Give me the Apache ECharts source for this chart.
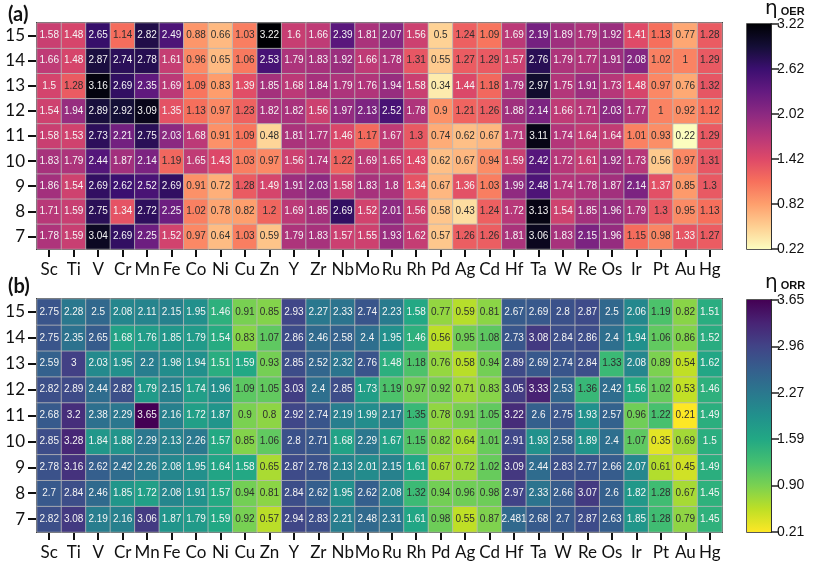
<!DOCTYPE html>
<html>
<head>
<meta charset="utf-8">
<script src="https://cdn.jsdelivr.net/npm/echarts@6/dist/echarts.min.js"></script>
<style>html,body{margin:0;padding:0;background:#fff;}#c{width:817px;height:565px;}</style>
</head>
<body>
<div id="c"></div>
<script>
const elements = ['Sc','Ti','V','Cr','Mn','Fe','Co','Ni','Cu','Zn','Y','Zr','Nb','Mo','Ru','Rh','Pd','Ag','Cd','Hf','Ta','W','Re','Os','Ir','Pt','Au','Hg'];
const rowLabels = ['7','8','9','10','11','12','13','14','15'];

// (a) eta OER, rows 15 .. 7
const oer15 = [1.58,1.48,2.65,1.14,2.82,2.49,0.88,0.66,1.03,3.22,1.6,1.66,2.39,1.81,2.07,1.56,0.5,1.24,1.09,1.69,2.19,1.89,1.79,1.92,1.41,1.13,0.77,1.28];
const oer14 = [1.66,1.48,2.87,2.74,2.78,1.61,0.96,0.65,1.06,2.53,1.79,1.83,1.92,1.66,1.78,1.31,0.55,1.27,1.29,1.57,2.76,1.79,1.77,1.91,2.08,1.02,1,1.29];
const oer13 = [1.5,1.28,3.16,2.69,2.35,1.69,1.09,0.83,1.39,1.85,1.68,1.84,1.79,1.76,1.94,1.58,0.34,1.44,1.18,1.79,2.97,1.75,1.91,1.73,1.48,0.97,0.76,1.32];
const oer12 = [1.54,1.94,2.89,2.92,3.09,1.35,1.13,0.97,1.23,1.82,1.82,1.56,1.97,2.13,2.52,1.78,0.9,1.21,1.26,1.88,2.14,1.66,1.71,2.03,1.77,1,0.92,1.12];
const oer11 = [1.58,1.53,2.73,2.21,2.75,2.03,1.68,0.91,1.09,0.48,1.81,1.77,1.46,1.17,1.67,1.3,0.74,0.62,0.67,1.71,3.11,1.74,1.64,1.64,1.01,0.93,0.22,1.29];
const oer10 = [1.83,1.79,2.44,1.87,2.14,1.19,1.65,1.43,1.03,0.97,1.56,1.74,1.22,1.69,1.65,1.43,0.62,0.67,0.94,1.59,2.42,1.72,1.61,1.92,1.73,0.56,0.97,1.31];
const oer9  = [1.86,1.54,2.69,2.62,2.52,2.69,0.91,0.72,1.28,1.49,1.91,2.03,1.58,1.83,1.8,1.34,0.67,1.36,1.03,1.99,2.48,1.74,1.78,1.87,2.14,1.37,0.85,1.3];
const oer8  = [1.71,1.59,2.75,1.34,2.72,2.25,1.02,0.78,0.82,1.2,1.69,1.85,2.69,1.52,2.01,1.56,0.58,0.43,1.24,1.72,3.13,1.54,1.85,1.96,1.79,1.3,0.95,1.13];
const oer7  = [1.78,1.59,3.04,2.69,2.25,1.52,0.97,0.64,1.03,0.59,1.79,1.83,1.57,1.55,1.93,1.62,0.57,1.26,1.26,1.81,3.06,1.83,2.15,1.96,1.15,0.98,1.33,1.27];

// (b) eta ORR, rows 15 .. 7
const orr15 = [2.75,2.28,2.5,2.08,2.11,2.15,1.95,1.46,0.91,0.85,2.93,2.27,2.33,2.74,2.23,1.58,0.77,0.59,0.81,2.67,2.69,2.8,2.87,2.5,2.06,1.19,0.82,1.51];
const orr14 = [2.75,2.35,2.65,1.68,1.76,1.85,1.79,1.54,0.83,1.07,2.86,2.46,2.58,2.4,1.95,1.46,0.56,0.95,1.08,2.73,3.08,2.84,2.86,2.4,1.94,1.06,0.86,1.52];
const orr13 = [2.59,3,2.03,1.95,2.2,1.98,1.94,1.51,1.59,0.93,2.85,2.52,2.32,2.76,1.48,1.18,0.76,0.58,0.94,2.89,2.69,2.74,2.84,1.33,2.08,0.89,0.54,1.62];
const orr12 = [2.82,2.89,2.44,2.82,1.79,2.15,1.74,1.96,1.09,1.05,3.03,2.4,2.85,1.73,1.19,0.97,0.92,0.71,0.83,3.05,3.33,2.53,1.36,2.42,1.56,1.02,0.53,1.46];
const orr11 = [2.68,3.2,2.38,2.29,3.65,2.16,1.72,1.87,0.9,0.8,2.92,2.74,2.19,1.99,2.17,1.35,0.78,0.91,1.05,3.22,2.6,2.75,1.93,2.57,0.96,1.22,0.21,1.49];
const orr10 = [2.85,3.28,1.84,1.88,2.29,2.13,2.26,1.57,0.85,1.06,2.8,2.71,1.68,2.29,1.67,1.15,0.82,0.64,1.01,2.91,1.93,2.58,1.89,2.4,1.07,0.35,0.69,1.5];
const orr9  = [2.78,3.16,2.62,2.42,2.26,2.08,1.95,1.64,1.58,0.65,2.87,2.78,2.13,2.01,2.15,1.61,0.67,0.72,1.02,3.09,2.44,2.83,2.77,2.66,2.07,0.61,0.45,1.49];
const orr8  = [2.7,2.84,2.46,1.85,1.72,2.08,1.91,1.57,0.94,0.81,2.84,2.62,1.95,2.62,2.08,1.32,0.94,0.96,0.98,2.97,2.33,2.66,3.07,2.6,1.82,1.28,0.67,1.45];
const orr7  = [2.82,3.08,2.19,2.16,3.06,1.87,1.79,1.59,0.92,0.57,2.94,2.83,2.21,2.48,2.31,1.61,0.98,0.55,0.87,2.481,2.68,2.7,2.87,2.63,1.85,1.28,0.79,1.45];

const oerTicks = ['0.22','0.82','1.42','2.02','2.62','3.22'];
const orrTicks = ['0.21','0.90','1.59','2.27','2.96','3.65'];
const oerRange = [0.22, 3.22];
const orrRange = [0.21, 3.65];

const oerRows = [oer7,oer8,oer9,oer10,oer11,oer12,oer13,oer14,oer15];
const orrRows = [orr7,orr8,orr9,orr10,orr11,orr12,orr13,orr14,orr15];

const magmaR = ['#fcfdbf','#fecf92','#fe9f6d','#f7705c','#de4968','#b73779','#8c2981','#641a80','#3b0f70','#140e36','#000004'];
const viridisR = ['#fde725','#bddf26','#7ad151','#44bf70','#22a884','#21918c','#2a788e','#355f8d','#414487','#482475','#440154'];

function build(rows, thr, dark) {
  const d = [];
  rows.forEach((r, yi) => r.forEach((v, xi) => {
    d.push({ value: [xi, yi, v], label: { color: v < thr ? dark : '#f4f4f4' } });
  }));
  return d;
}
function grad(colorsLowToHigh) {
  const n = colorsLowToHigh.length;
  return {
    type: 'linear', x: 0, y: 0, x2: 0, y2: 1,
    colorStops: colorsLowToHigh.slice().reverse().map((c, i) => ({ offset: i / (n - 1), color: c }))
  };
}

const catFont = 'Lato, "Open Sans", sans-serif';
function heatX(gi) {
  return {
    type: 'category', gridIndex: gi, data: elements,
    axisLine: { show: true, lineStyle: { color: '#111', width: 2 } },
    axisTick: { show: true, alignWithLabel: true, length: 8, lineStyle: { color: '#111', width: 2 } },
    axisLabel: { fontSize: 17, color: '#111', margin: 12, fontFamily: catFont, interval: 0, hideOverlap: false },
    splitLine: { show: false }
  };
}
function heatY(gi) {
  return {
    type: 'category', gridIndex: gi, data: rowLabels,
    axisLine: { show: true, lineStyle: { color: '#111', width: 2 } },
    axisTick: { show: true, alignWithLabel: true, length: 9, lineStyle: { color: '#111', width: 2 } },
    axisLabel: { fontSize: 17, color: '#111', margin: 12, fontFamily: catFont, interval: 0 },
    splitLine: { show: false }
  };
}
function barY(gi, ticks) {
  return {
    type: 'value', gridIndex: gi, min: 0, max: ticks.length - 1, interval: 1, position: 'right',
    axisLine: { show: true, lineStyle: { color: '#222', width: 1.5 } },
    axisTick: { show: true, length: 8, lineStyle: { color: '#222', width: 1.5 } },
    axisLabel: { fontSize: 14, color: '#111', margin: 6, fontFamily: '"Liberation Sans", Arial, sans-serif', formatter: v => ticks[v] },
    splitLine: { show: false }
  };
}
function heatSeries(idx, data) {
  return {
    type: 'heatmap', xAxisIndex: idx, yAxisIndex: idx, data: data,
    label: { show: true, fontSize: 10, fontFamily: '"Liberation Sans", Arial, sans-serif', formatter: p => String(p.value[2]) },
    itemStyle: { borderColor: 'rgba(185,185,185,0.8)', borderWidth: 1 },
    emphasis: { disabled: true }, silent: true
  };
}
const etaRich = { e: { fontSize: 20, fontWeight: 'normal', color: '#111', fontFamily: '"DejaVu Sans"' }, s: { fontSize: 11, fontWeight: 'bold', color: '#111', fontFamily: '"Liberation Sans"', padding: [5, 0, 0, 0] } };

const chart = echarts.init(document.getElementById('c'), null, { renderer: 'canvas' });
chart.setOption({
  animation: false,
  backgroundColor: '#fff',
  title: [
    { text: '(a)', left: 3, top: 0, textStyle: { fontSize: 20, fontWeight: 'bold', color: '#111', fontFamily: catFont } },
    { text: '(b)', left: 3, top: 272, textStyle: { fontSize: 20, fontWeight: 'bold', color: '#111', fontFamily: catFont } },
    { text: '{e|η}{s| OER}', left: 760, top: -6, textStyle: { fontWeight: 'normal', rich: etaRich } },
    { text: '{e|η}{s| ORR}', left: 760, top: 268, textStyle: { fontWeight: 'normal', rich: etaRich } }
  ],
  grid: [
    { left: 37, top: 23, width: 685, height: 226, show: true, borderColor: '#111', borderWidth: 2, backgroundColor: 'transparent' },
    { left: 37, top: 299, width: 685, height: 233, show: true, borderColor: '#111', borderWidth: 2, backgroundColor: 'transparent' },
    { left: 747, top: 24, width: 24, height: 225, show: true, borderColor: '#222', borderWidth: 1.5 },
    { left: 747, top: 300, width: 24, height: 232, show: true, borderColor: '#222', borderWidth: 1.5 }
  ],
  xAxis: [
    heatX(0), heatX(1),
    { type: 'category', gridIndex: 2, data: ['c'], show: false },
    { type: 'category', gridIndex: 3, data: ['c'], show: false }
  ],
  yAxis: [ heatY(0), heatY(1), barY(2, oerTicks), barY(3, orrTicks) ],
  visualMap: [
    { show: false, seriesIndex: 0, dimension: 2, min: oerRange[0], max: oerRange[1], inRange: { color: magmaR } },
    { show: false, seriesIndex: 1, dimension: 2, min: orrRange[0], max: orrRange[1], inRange: { color: viridisR } }
  ],
  series: [
    heatSeries(0, build(oerRows, 1.33, '#2e2e2e')),
    heatSeries(1, build(orrRows, 1.45, '#2e2e2e')),
    { type: 'bar', xAxisIndex: 2, yAxisIndex: 2, data: [oerTicks.length - 1], barWidth: '100%', silent: true, itemStyle: { color: grad(magmaR) } },
    { type: 'bar', xAxisIndex: 3, yAxisIndex: 3, data: [orrTicks.length - 1], barWidth: '100%', silent: true, itemStyle: { color: grad(viridisR) } }
  ]
});
</script>
</body>
</html>
